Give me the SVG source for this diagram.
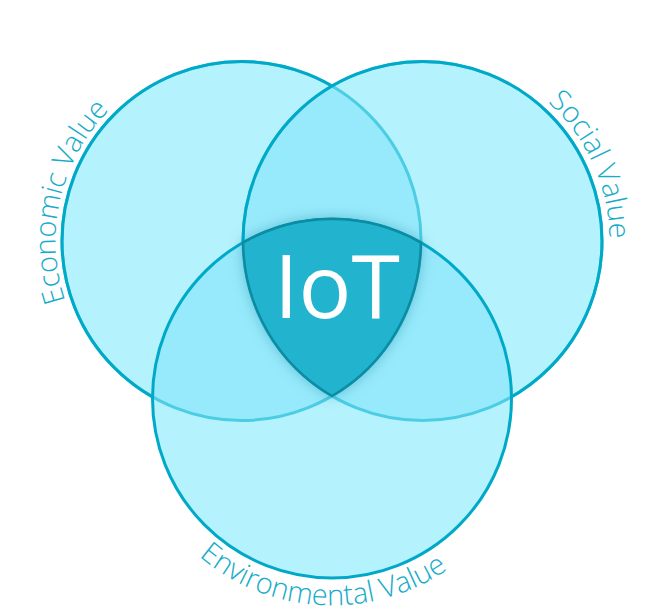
<svg xmlns="http://www.w3.org/2000/svg" width="667" height="608" viewBox="0 0 667 608">
<style>
.fill{fill:#b4f2fd}
.lens{fill:#97eafc}
.sf{fill:none;stroke:#00a9c8;stroke-width:3}
.sl{fill:none;stroke:#4ccde4;stroke-width:3}
.lbl{font-family:"Open Sans","DejaVu Sans",sans-serif;font-weight:300;font-size:29px;fill:#16acc9}
.iot{font-family:"Open Sans","DejaVu Sans",sans-serif;font-weight:400;font-size:88px;fill:#ffffff}
</style>
<defs>
<clipPath id="cL"><circle cx="241.5" cy="241" r="179.5"/></clipPath>
<clipPath id="cR"><circle cx="422.5" cy="241" r="179.5"/></clipPath>
<mask id="mL"><rect width="667" height="608" fill="#fff"/><circle cx="422.5" cy="241" r="179.5" fill="#000"/><circle cx="332" cy="398.5" r="179.5" fill="#000"/></mask>
<mask id="mR"><rect width="667" height="608" fill="#fff"/><circle cx="332" cy="398.5" r="179.5" fill="#000"/></mask>
<filter id="sh" x="-30%" y="-30%" width="160%" height="160%"><feDropShadow dx="0" dy="0" stdDeviation="7" flood-color="#006f85" flood-opacity="0.35"/></filter>
<path id="pE" d="M140.2,397 A186,186 0 0 1 218.8,56.4"/>
<path id="pS" d="M408.5,54.5 A187,187 0 0 1 553.1,374.8"/>
<path id="pV" d="M136,458.4 A204,204 0 0 0 520.7,478.6"/>
</defs>
<g id="fills">
<circle class="fill" cx="241.5" cy="241" r="179.5"/>
<circle class="fill" cx="422.5" cy="241" r="179.5"/>
<circle class="fill" cx="332" cy="398.5" r="179.5"/>
<g clip-path="url(#cL)"><circle class="lens" cx="422.5" cy="241" r="179.5"/><circle class="lens" cx="332" cy="398.5" r="179.5"/></g>
<g clip-path="url(#cR)"><circle class="lens" cx="332" cy="398.5" r="179.5"/></g>
</g>
<g id="economic">
<circle class="sl" cx="241.5" cy="241" r="179.5"/>
<circle class="sf" cx="241.5" cy="241" r="179.5" mask="url(#mL)"/>
<text class="lbl"><textPath href="#pE" startOffset="50%" text-anchor="middle">Economic Value</textPath></text>
</g>
<g id="social">
<circle class="sl" cx="422.5" cy="241" r="179.5"/>
<circle class="sf" cx="422.5" cy="241" r="179.5" mask="url(#mR)"/>
<text class="lbl"><textPath href="#pS" startOffset="50%" text-anchor="middle">Social Value</textPath></text>
</g>
<g id="environmental">
<circle class="sf" cx="332" cy="398.5" r="179.5"/>
<text class="lbl"><textPath href="#pV" startOffset="50%" text-anchor="middle">Environmental Value</textPath></text>
</g>
<g id="iot">
<path d="M243.1,242.6 A179.5,179.5 0 0 1 420.9,242.6 A179.5,179.5 0 0 1 332,396 A179.5,179.5 0 0 1 243.1,242.6 Z" fill="#23b4cf" stroke="#0a8ba2" stroke-width="2.5" filter="url(#sh)"/>
<text class="iot" x="337" y="318" text-anchor="middle">IoT</text>
</g>
</svg>
